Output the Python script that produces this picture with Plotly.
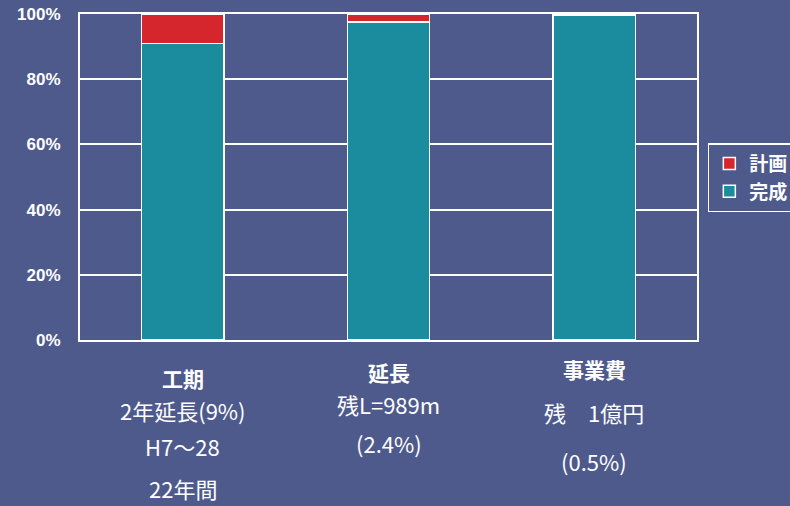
import plotly.graph_objects as go

categories = ["工期", "延長", "事業費"]
completed = [91.0, 97.6, 99.5]
planned = [9.0, 2.4, 0.5]
sub_labels = [
    ["2年延長(9%)", "H7～28", "22年間"],
    ["残L=989m", "(2.4%)"],
    ["残　1億円", "(0.5%)"],
]
tick_vals = [0, 20, 40, 60, 80, 100]
tick_text = ["0%", "20%", "40%", "60%", "80%", "100%"]

BG = "#4e5a8c"
TEAL = "#1b8c9e"
RED = "#d4262c"
FONT = "Noto Sans CJK JP"

fig = go.Figure()
fig.add_trace(go.Bar(x=categories, y=completed, name="完成", marker=dict(color=TEAL, line=dict(color="white", width=1.5)), width=0.4))
fig.add_trace(go.Bar(x=categories, y=planned, name="計画", marker=dict(color=RED, line=dict(color="white", width=1.5)), width=0.4))

# category titles and sub-labels
title_y = [-0.117, -0.098, -0.089]
sub_offsets = [
    [-0.215, -0.325, -0.454],
    [-0.196, -0.316],
    [-0.221, -0.371],
]
for i, cat in enumerate(categories):
    fig.add_annotation(x=cat, xref="x", y=title_y[i], yref="paper", yanchor="middle", text="<b>" + cat + "</b>",
                       showarrow=False, font=dict(family=FONT, size=21, color="white"))
    for j, s in enumerate(sub_labels[i]):
        fig.add_annotation(x=cat, xref="x", y=sub_offsets[i][j], yref="paper", yanchor="middle", text=s,
                           showarrow=False, font=dict(family=FONT, size=22, color="white"))

fig.update_layout(
    width=790, height=506,
    barmode="stack",
    paper_bgcolor=BG, plot_bgcolor=BG,
    margin=dict(l=80, r=93, t=14, b=166, autoexpand=False),
    font=dict(family=FONT, color="white"),
    xaxis=dict(showticklabels=False, showgrid=False, showline=True, linecolor="white", linewidth=2, mirror=True,
               zeroline=False),
    yaxis=dict(range=[0, 100], tickvals=tick_vals, ticktext=["<b>%s</b>" % t for t in tick_text],
               tickfont=dict(family="Liberation Sans", size=17, color="white"),
               showgrid=True, gridcolor="white", gridwidth=1.5, showline=True, linecolor="white", linewidth=2,
               mirror=True, zeroline=False, ticklabelstandoff=14),
    legend=dict(xref="container", yref="container", x=0.896, y=0.717, xanchor="left", yanchor="top",
                traceorder="reversed", tracegroupgap=0,
                bgcolor="rgba(0,0,0,0)", bordercolor="white", borderwidth=1.5,
                font=dict(family=FONT, size=19, color="white"), itemwidth=30),
    showlegend=True,
)
fig.update_traces(legendgrouptitle_text=None)
for tr in fig.data:
    tr.name = "<b>" + tr.name + "</b>"

fig.write_html("out.html")
